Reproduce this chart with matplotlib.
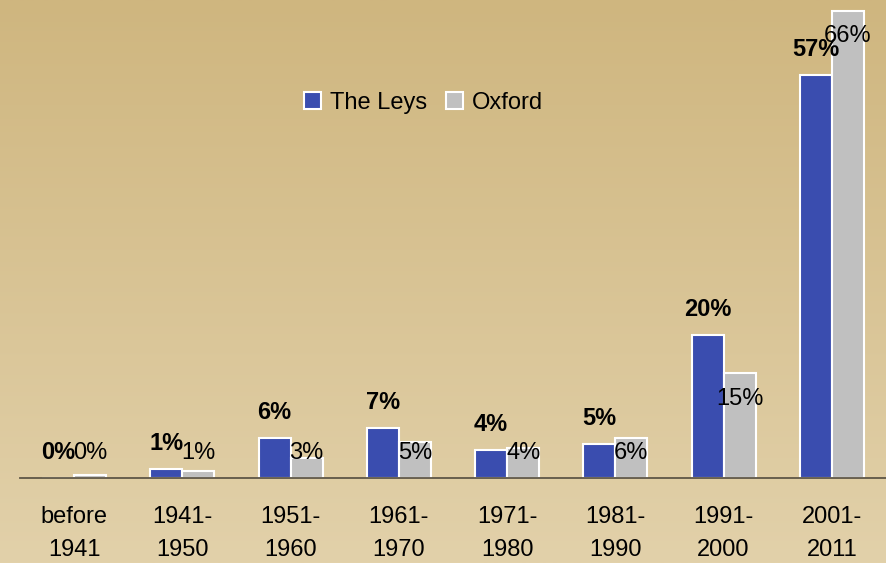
import numpy as np
import matplotlib
matplotlib.use("Agg")
import matplotlib.pyplot as plt
from matplotlib.colors import LinearSegmentedColormap

plt.rcParams['font.family'] = ['Liberation Sans', 'DejaVu Sans']

# data
periods = ["before\n1941", "1941-\n1950", "1951-\n1960", "1961-\n1970",
           "1971-\n1980", "1981-\n1990", "1991-\n2000", "2001-\n2011"]
leys = [0.0, 1.3, 5.6, 7.0, 3.9, 4.8, 20.2, 56.9]
oxford = [0.4, 1.0, 2.8, 5.1, 4.2, 5.6, 14.8, 66.0]

blue = "#3a4daf"
grey = "#c0c0c0"

fig = plt.figure(figsize=(8.86, 5.63), dpi=100)

# gradient background over the whole figure
bg = fig.add_axes([0, 0, 1, 1], zorder=-1)
cmap = LinearSegmentedColormap.from_list("tan", ["#cfb67f", "#e2d1aa"])
bg.imshow(np.linspace(0, 1, 256).reshape(-1, 1), aspect="auto", cmap=cmap,
          extent=[0, 1, 0, 1])
bg.axis("off")

ax = fig.add_axes([20 / 886, 85 / 563, 866 / 886, 478 / 563])
ax.patch.set_alpha(0)

x = np.arange(len(periods))
w = 0.296
ax.bar(x - w / 2, leys, w, color=blue, edgecolor="white", linewidth=1.5,
       label="The Leys", zorder=2)
ax.bar(x + w / 2, oxford, w, color=grey, edgecolor="white", linewidth=1.5,
       label="Oxford", zorder=2)

# value labels: bold above the Leys bars, plain near the top of the Oxford bars
for i in range(len(periods)):
    ax.text(x[i] - w / 2, leys[i] + 3.6, f"{leys[i]:.0f}%", ha="center",
            va="center", fontsize=17, fontweight="bold", zorder=3)
    ax.text(x[i] + w / 2, max(oxford[i] - 3.6, 3.6), f"{oxford[i]:.0f}%",
            ha="center", va="center", fontsize=17, zorder=3)

ax.set_xlim(-0.5, len(periods) - 0.5)
ax.set_ylim(0, 67.5)
ax.set_yticks([])
ax.set_xticks(x)
ax.set_xticklabels(periods, fontsize=17, linespacing=1.65)
ax.tick_params(axis="x", length=0, pad=20)
for side in ["top", "right", "left"]:
    ax.spines[side].set_visible(False)
ax.spines["bottom"].set_color("#5e5646")
ax.spines["bottom"].set_linewidth(1.3)

ax.legend(loc="center", bbox_to_anchor=(0.466, 0.785), ncol=2, frameon=False,
          fontsize=17, handlelength=0.7, handleheight=0.7, handletextpad=0.4,
          columnspacing=0.8)

fig.savefig("out.png", dpi=100)
